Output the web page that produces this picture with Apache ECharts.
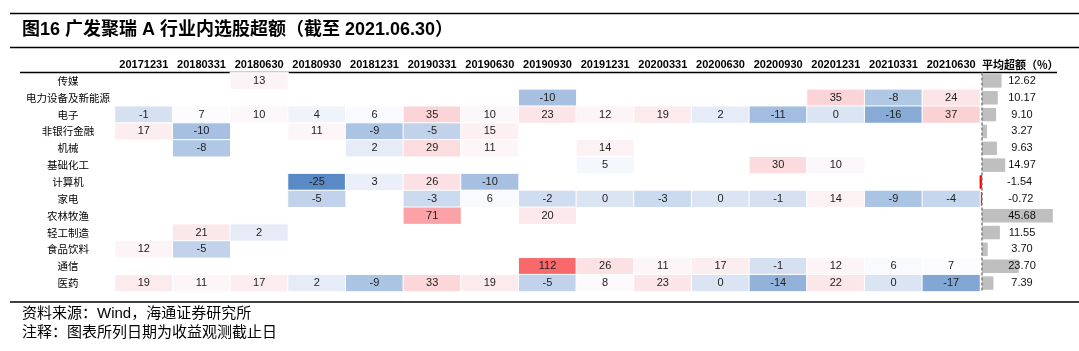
<!DOCTYPE html>
<html>
<head>
<meta charset="utf-8">
<script src="https://cdn.jsdelivr.net/npm/echarts@6/dist/echarts.min.js"></script>
<style>
  html, body { margin: 0; padding: 0; background: #fff; }
  #main { width: 1079px; height: 351px; }
</style>
</head>
<body>
<div id="main"></div>
<script>
// 日期列
const dates = ['20171231', '20180331', '20180630', '20180930', '20181231', '20190331', '20190630', '20190930',
   '20191231', '20200331', '20200630', '20200930', '20201231', '20210331', '20210630'];
// 行业
const industries = ['传媒', '电力设备及新能源', '电子', '非银行金融', '机械', '基础化工', '计算机', '家电',
   '农林牧渔', '轻工制造', '食品饮料', '通信', '医药'];

const _ = null;
// 各行业逐期超额 (%)
const chuanmei = [_, _, 13, _, _, _, _, _, _, _, _, _, _, _, _];
const dianli = [_, _, _, _, _, _, _, -10, _, _, _, _, 35, -8, 24];
const dianzi = [-1, 7, 10, 4, 6, 35, 10, 23, 12, 19, 2, -11, 0, -16, 37];
const feiyin = [17, -10, _, 11, -9, -5, 15, _, _, _, _, _, _, _, _];
const jixie = [_, -8, _, _, 2, 29, 11, _, 14, _, _, _, _, _, _];
const jichuhuagong = [_, _, _, _, _, _, _, _, 5, _, _, 30, 10, _, _];
const jisuanji = [_, _, _, -25, 3, 26, -10, _, _, _, _, _, _, _, _];
const jiadian = [_, _, _, -5, _, -3, 6, -2, 0, -3, 0, -1, 14, -9, -4];
const nonglin = [_, _, _, _, _, 71, _, 20, _, _, _, _, _, _, _];
const qinggong = [_, 21, 2, _, _, _, _, _, _, _, _, _, _, _, _];
const shipin = [12, -5, _, _, _, _, _, _, _, _, _, _, _, _, _];
const tongxin = [_, _, _, _, _, _, _, 112, 26, 11, 17, -1, 12, 6, 7];
const yiyao = [19, 11, 17, 2, -9, 33, 19, -5, 8, 23, 0, -14, 22, 0, -17];
// 平均超额 (%)
const avgExcess = [12.62, 10.17, 9.10, 3.27, 9.63, 14.97, -1.54, -0.72, 45.68, 11.55, 3.70, 23.70, 7.39];

const rows = [chuanmei, dianli, dianzi, feiyin, jixie, jichuhuagong, jisuanji, jiadian, nonglin, qinggong, shipin, tongxin, yiyao];

const FONT = 'Liberation Sans, Arial, Noto Sans CJK SC, sans-serif';

// 三色阶: 最小值蓝, 中位数白, 最大值红
const allVals = [];
rows.forEach(r => r.forEach(v => { if (v !== null) allVals.push(v); }));
const sorted = allVals.slice().sort((a, b) => a - b);
const n = sorted.length;
const minV = sorted[0];
const maxV = sorted[n - 1];
const midV = n % 2 ? sorted[(n - 1) / 2] : (sorted[n / 2 - 1] + sorted[n / 2]) / 2;
const cMin = [90, 138, 198], cMid = [252, 252, 255], cMax = [248, 105, 107];

function mix(a, b, t) {
   return 'rgb(' + a.map((x, i) => Math.round(x + (b[i] - x) * t)).join(',') + ')';
}
function cellColor(v) {
   if (v <= midV) return mix(cMin, cMid, (v - minV) / (midV - minV));
   return mix(cMid, cMax, (v - midV) / (maxV - midV));
}

const heatData = [];
rows.forEach((r, yi) => {
   r.forEach((v, xi) => {
      if (v === null) return;
      heatData.push({ value: [xi, yi, v], itemStyle: { color: cellColor(v) } });
   });
});

const chart = echarts.init(document.getElementById('main'));

const option = {
   backgroundColor: '#fff',
   animation: false,
   textStyle: { fontFamily: FONT },
   grid: [
      // 热力表
      { left: 115, top: 72.5, width: 865, height: 219 },
      // 平均超额条形
      { left: 966.5, top: 72.5, width: 102.3, height: 219 }
   ],
   xAxis: [
      {
         type: 'category',
         gridIndex: 0,
         position: 'top',
         data: dates,
         axisLine: { show: false },
         axisTick: { show: false },
         splitLine: { show: false },
         axisLabel: {
            interval: 0, color: '#000', fontSize: 11, fontWeight: 'bold', margin: 2, fontFamily: FONT
         }
      },
      {
         type: 'value',
         gridIndex: 1,
         min: -10,
         max: 56,
         show: false
      }
   ],
   yAxis: [
      {
         type: 'category',
         gridIndex: 0,
         inverse: true,
         data: industries,
         axisLine: { show: false },
         axisTick: { show: false },
         splitLine: { show: false },
         axisLabel: {
            interval: 0, color: '#000', fontSize: 10.5, align: 'center', margin: 47,
            fontFamily: 'Noto Sans CJK SC, sans-serif'
         }
      },
      {
         type: 'category',
         gridIndex: 1,
         inverse: true,
         data: industries,
         show: false
      }
   ],
   series: [
      {
         type: 'heatmap',
         xAxisIndex: 0,
         yAxisIndex: 0,
         data: heatData,
         itemStyle: { borderColor: '#fff', borderWidth: 1 },
         label: {
            show: true,
            color: '#222',
            fontSize: 11,
            fontFamily: FONT,
            formatter: p => p.value[2]
         }
      },
      {
         type: 'bar',
         xAxisIndex: 1,
         yAxisIndex: 1,
         data: avgExcess,
         barWidth: '80%',
         itemStyle: {
            color: p => (p.value < 0 ? '#ff0000' : '#bfbfbf')
         },
         label: {
            show: true,
            position: [40, '50%'],
            align: 'center',
            verticalAlign: 'middle',
            color: '#111',
            fontSize: 11,
            fontFamily: FONT,
            formatter: p => p.value.toFixed(2)
         },
         markLine: {
            silent: true,
            symbol: 'none',
            label: { show: false },
            lineStyle: { color: '#7f7f7f', type: [3, 2], width: 1.5 },
            data: [{ xAxis: 0 }]
         }
      }
   ],
   graphic: [
      { type: 'line', shape: { x1: 10, y1: 13.5, x2: 1079, y2: 13.5 }, style: { stroke: '#000', lineWidth: 1.5 } },
      {
         type: 'text', left: 22, top: 21,
         style: {
            text: '图16 广发聚瑞 A 行业内选股超额（截至 2021.06.30）',
            font: 'bold 18px ' + FONT, fill: '#000'
         }
      },
      { type: 'line', shape: { x1: 10, y1: 47.5, x2: 1079, y2: 47.5 }, style: { stroke: '#000', lineWidth: 1.5 } },
      {
         type: 'text', left: 982, top: 59,
         style: { text: '平均超额（%）', font: 'bold 11px Noto Sans CJK SC, sans-serif', fill: '#000' }
      },
      { type: 'line', shape: { x1: 20, y1: 72.5, x2: 1057, y2: 72.5 }, style: { stroke: '#000', lineWidth: 1.5 } },
      { type: 'line', shape: { x1: 10, y1: 302, x2: 1079, y2: 302 }, style: { stroke: '#000', lineWidth: 1.5 } },
      {
         type: 'text', left: 22, top: 306,
         style: { text: '资料来源：Wind，海通证券研究所', font: '15px ' + FONT, fill: '#000' }
      },
      {
         type: 'text', left: 22, top: 325,
         style: { text: '注释：图表所列日期为收益观测截止日', font: '15px ' + FONT, fill: '#000' }
      }
   ]
};

chart.setOption(option);
</script>
</body>
</html>
